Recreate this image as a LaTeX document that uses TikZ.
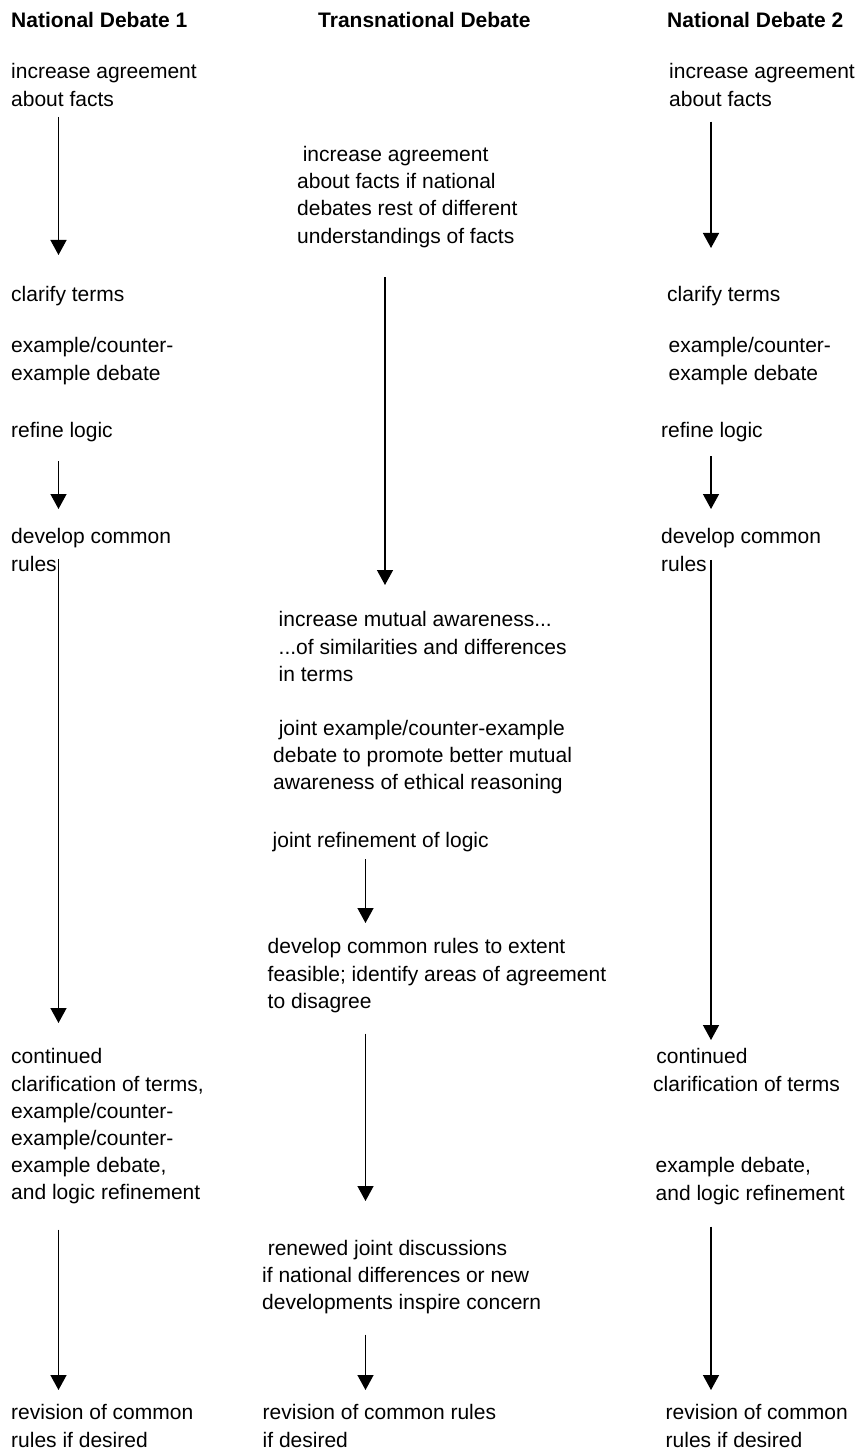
\documentclass[tikz,border=0pt]{standalone}
\usepackage{fontspec}
\setmainfont{Liberation Sans}
\usetikzlibrary{arrows.meta}

\tikzset{
	txt/.style={anchor=north west, inner sep=0pt, align=left,
		execute at begin node=\strut, execute at end node=\strut},
	hd/.style={txt, font=\fontsize{21}{27.2}\selectfont\bfseries},
}

\begin{document}
\begin{tikzpicture}[x=1pt, y=1pt, font=\fontsize{21}{27.2}\selectfont, line width=1.4pt, arrows={-Triangle[width=16pt,length=15pt]}]
	\useasboundingbox (0,0) rectangle (858,-1455);

	\coordinate (L) at (58.5,0);
	\coordinate (M) at (365.5,0);
	\coordinate (MT) at (385,0);
	\coordinate (R) at (711,0);

	\node[hd] (H1) at (10.5,-8) {National Debate 1};
	\node[hd] (HT) at (317.5,-8) {Transnational Debate};
	\node[hd] (H2) at (666.5,-8) {National Debate 2};

	\node[txt] (F1) at (10.5,-63) {increase agreement\\about facts};
	\node[txt] (C1) at (10.5,-282) {clarify terms};
	\node[txt] (E1) at (10.5,-337) {example/counter-\\example debate};
	\node[txt] (G1) at (10.5,-418) {refine logic};
	\node[txt] (D1) at (10.5,-528) {develop common\\rules};
	\node[txt] (K1) at (10.5,-1048) {continued\\clarification of terms,\\example/counter-\\example/counter-\\example debate,\\and logic refinement};
	\node[txt] (V1) at (10.5,-1404) {revision of common\\rules if desired};

	\node[txt] (FT) at (296.5,-145.5) {\hspace*{5.6pt}increase agreement\\about facts if national\\debates rest of different\\understandings of facts};
	\node[txt] (AT) at (278,-611) {increase mutual awareness...\\...of similarities and differences\\in terms};
	\node[txt] (JT) at (272.5,-719.5) {\hspace*{5.6pt}joint example/counter-example\\debate to promote better mutual\\awareness of ethical reasoning};
	\node[txt] (GT) at (272,-828) {joint refinement of logic};
	\node[txt] (DT) at (267,-938) {develop common rules to extent\\feasible; identify areas of agreement\\to disagree};
	\node[txt] (NT) at (261.5,-1239.5) {\hspace*{5.6pt}renewed joint discussions\\if national differences or new\\developments inspire concern};
	\node[txt] (VT) at (262,-1404) {revision of common rules\\if desired};

	\node[txt] (F2) at (668.5,-63) {increase agreement\\about facts};
	\node[txt] (C2) at (666.5,-282) {clarify terms};
	\node[txt] (E2) at (668,-337) {example/counter-\\example debate};
	\node[txt] (G2) at (660.5,-418) {refine logic};
	\node[txt] (D2) at (660.5,-528) {develop common\\rules};
	\node[txt] (K2) at (652.5,-1048) {\hspace*{3.2pt}continued\\clarification of terms};
	\node[txt] (X2) at (655,-1157) {example debate,\\and logic refinement};
	\node[txt] (V2) at (665,-1404) {revision of common\\rules if desired};

	\draw ([yshift=-1.8pt]F1.south -| L) -- ([yshift=27pt]C1.north -| L);
	\draw ([yshift=-14.8pt]G1.south -| L) -- ([yshift=19pt]D1.north -| L);
	\draw ([yshift=21.2pt]D1.south -| L) -- ([yshift=25pt]K1.north -| L);
	\draw ([yshift=-20.8pt]K1.south -| L) -- ([yshift=14pt]V1.north -| L);

	\draw ([yshift=-25.2pt]FT.south -| MT) -- ([yshift=26pt]AT.north -| MT);
	\draw ([yshift=-2.8pt]GT.south -| M) -- ([yshift=15pt]DT.north -| M);
	\draw ([yshift=-16.4pt]DT.south -| M) -- ([yshift=38.5pt]NT.north -| M);
	\draw ([yshift=-15.9pt]NT.south -| M) -- ([yshift=14pt]VT.north -| M);

	\draw ([yshift=-6.6pt]F2.south -| R) -- ([yshift=34pt]C2.north -| R);
	\draw ([yshift=-9.8pt]G2.south -| R) -- ([yshift=19pt]D2.north -| R);
	\draw ([yshift=20.2pt]D2.south -| R) -- ([yshift=8pt]K2.north -| R);
	\draw ([yshift=-17.6pt]X2.south -| R) -- ([yshift=14pt]V2.north -| R);
\end{tikzpicture}
\end{document}
